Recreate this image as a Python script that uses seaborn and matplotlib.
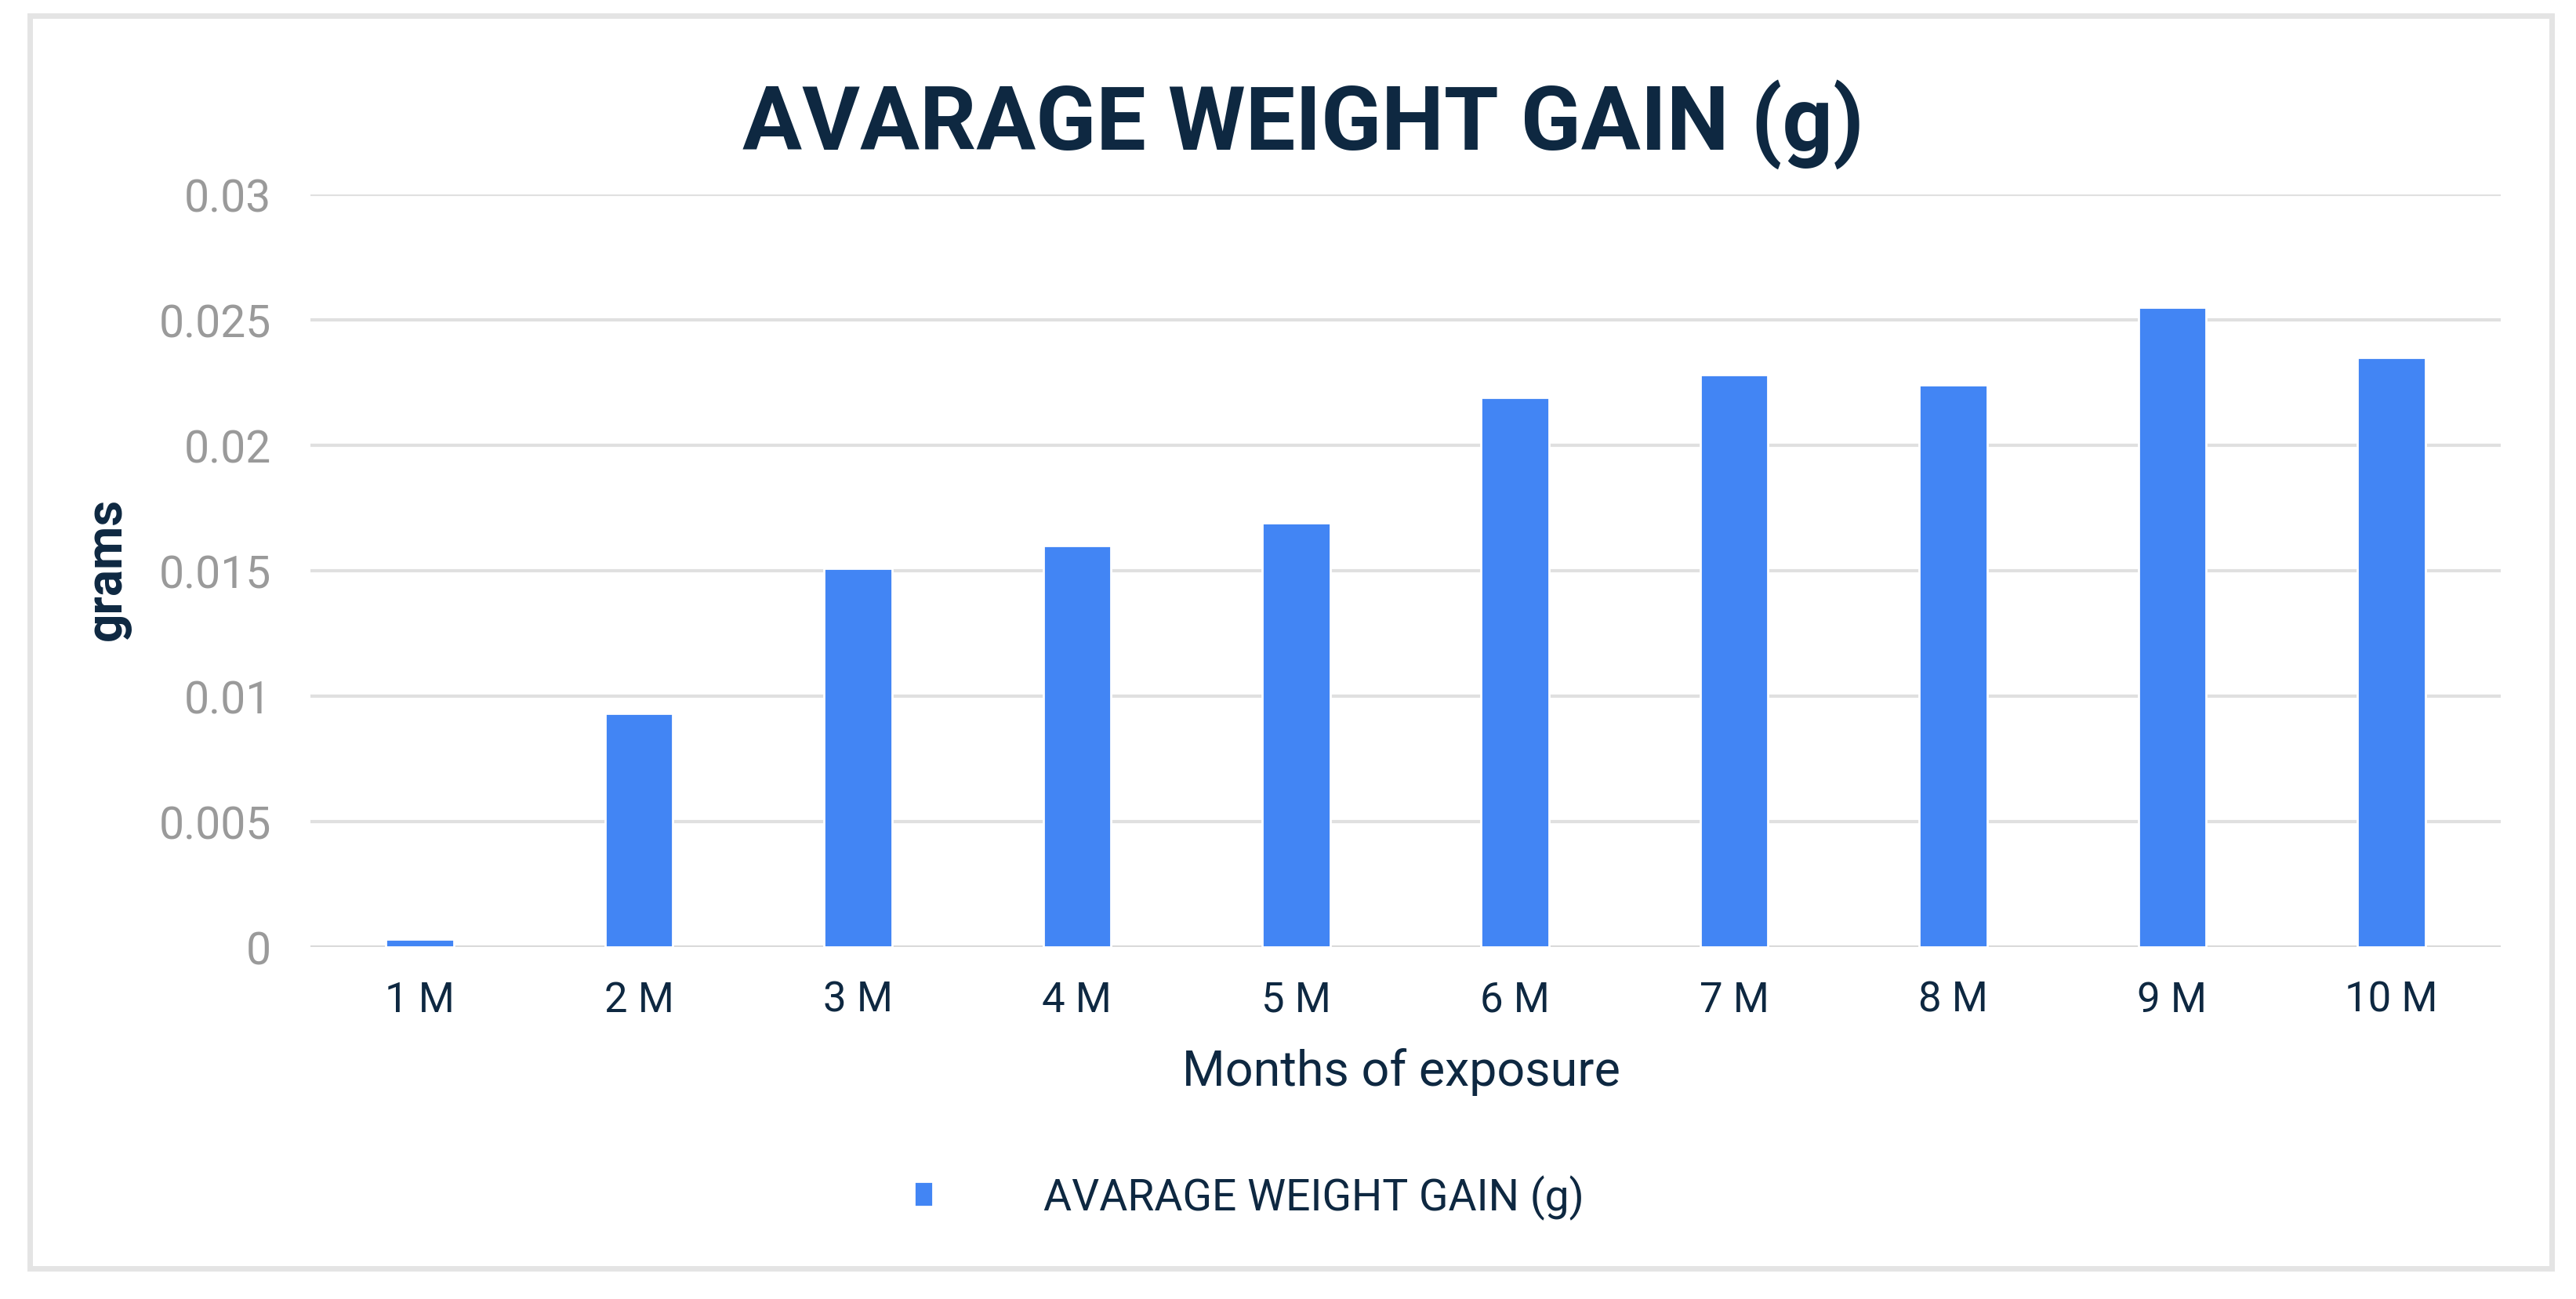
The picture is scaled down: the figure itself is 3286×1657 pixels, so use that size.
import matplotlib
matplotlib.use("Agg")
import matplotlib.pyplot as plt
import seaborn as sns
from matplotlib.patches import Rectangle

# data
months = ["1 M", "2 M", "3 M", "4 M", "5 M", "6 M", "7 M", "8 M", "9 M", "10 M"]
weight_gain = [0.0003, 0.0093, 0.0151, 0.0160, 0.0169, 0.0219, 0.0228, 0.0224, 0.0255, 0.0235]
y_ticks = [0, 0.005, 0.01, 0.015, 0.02, 0.025, 0.03]
y_tick_labels = ["0", "0.005", "0.01", "0.015", "0.02", "0.025", "0.03"]
series_name = "AVARAGE WEIGHT GAIN (g)"

navy = "#0E2841"
bar_blue = "#4285F4"
grid_grey = "#E0E0E0"
tick_grey = "#9A9A9A"

sns.set_theme(style="white")
plt.rcParams["font.family"] = ["Roboto", "DejaVu Sans"]

fig = plt.figure(figsize=(16.43, 8.29), dpi=200)
ax = fig.add_axes([0.1205, 0.2708, 0.8503, 0.5790])

sns.barplot(x=months, y=weight_gain, color=bar_blue, width=0.31,
            saturation=1, label=series_name, ax=ax, zorder=3)

ax.set_xlim(-0.5, len(months) - 0.5)
ax.set_ylim(0, 0.03)
ax.set_yticks(y_ticks)
ax.set_yticklabels(y_tick_labels)
ax.grid(axis="y", color=grid_grey, linewidth=1.5, zorder=0)
ax.xaxis.grid(False)
ax.axhline(0, color="#DADADA", linewidth=1.8, zorder=2)
for s in ax.spines.values():
    s.set_visible(False)

ax.tick_params(axis="y", length=0, pad=18, labelsize=20.5, labelcolor=tick_grey)
ax.tick_params(axis="x", length=0, pad=15, labelsize=19, labelcolor=navy)

ax.set_xlabel("Months of exposure", fontsize=22.6, color=navy)
ax.xaxis.label.set_va("center")
ax.xaxis.set_label_coords(0.544, 0.1755, transform=fig.transFigure)
ax.set_ylabel("grams", fontsize=23, color=navy, fontweight="bold")
ax.yaxis.label.set_va("center")
ax.yaxis.set_label_coords(0.0414, 0.562, transform=fig.transFigure)

fig.text(0.506, 0.885, series_name, ha="center", va="baseline",
         fontsize=40.7, fontweight="bold", color=navy)

ax.legend().remove()
handles, labels = ax.get_legend_handles_labels()
leg = fig.legend(handles[:1], labels[:1], loc="center left",
                 bbox_to_anchor=(0.3548, 0.0785), frameon=False,
                 borderaxespad=0, borderpad=0, handlelength=0.43,
                 handleheight=0.5, handletextpad=2.55, fontsize=19.9)
for t in leg.get_texts():
    t.set_color(navy)

# light outer frame around the whole chart
fig.patches.append(Rectangle((38 / 3286, 1 - 1619 / 1658), (3255 - 38) / 3286,
                             (1619 - 21) / 1658, transform=fig.transFigure,
                             fill=False, edgecolor="#E4E4E4", linewidth=2.5))

fig.savefig("out.png", dpi=200, facecolor="white")
plt.close(fig)
